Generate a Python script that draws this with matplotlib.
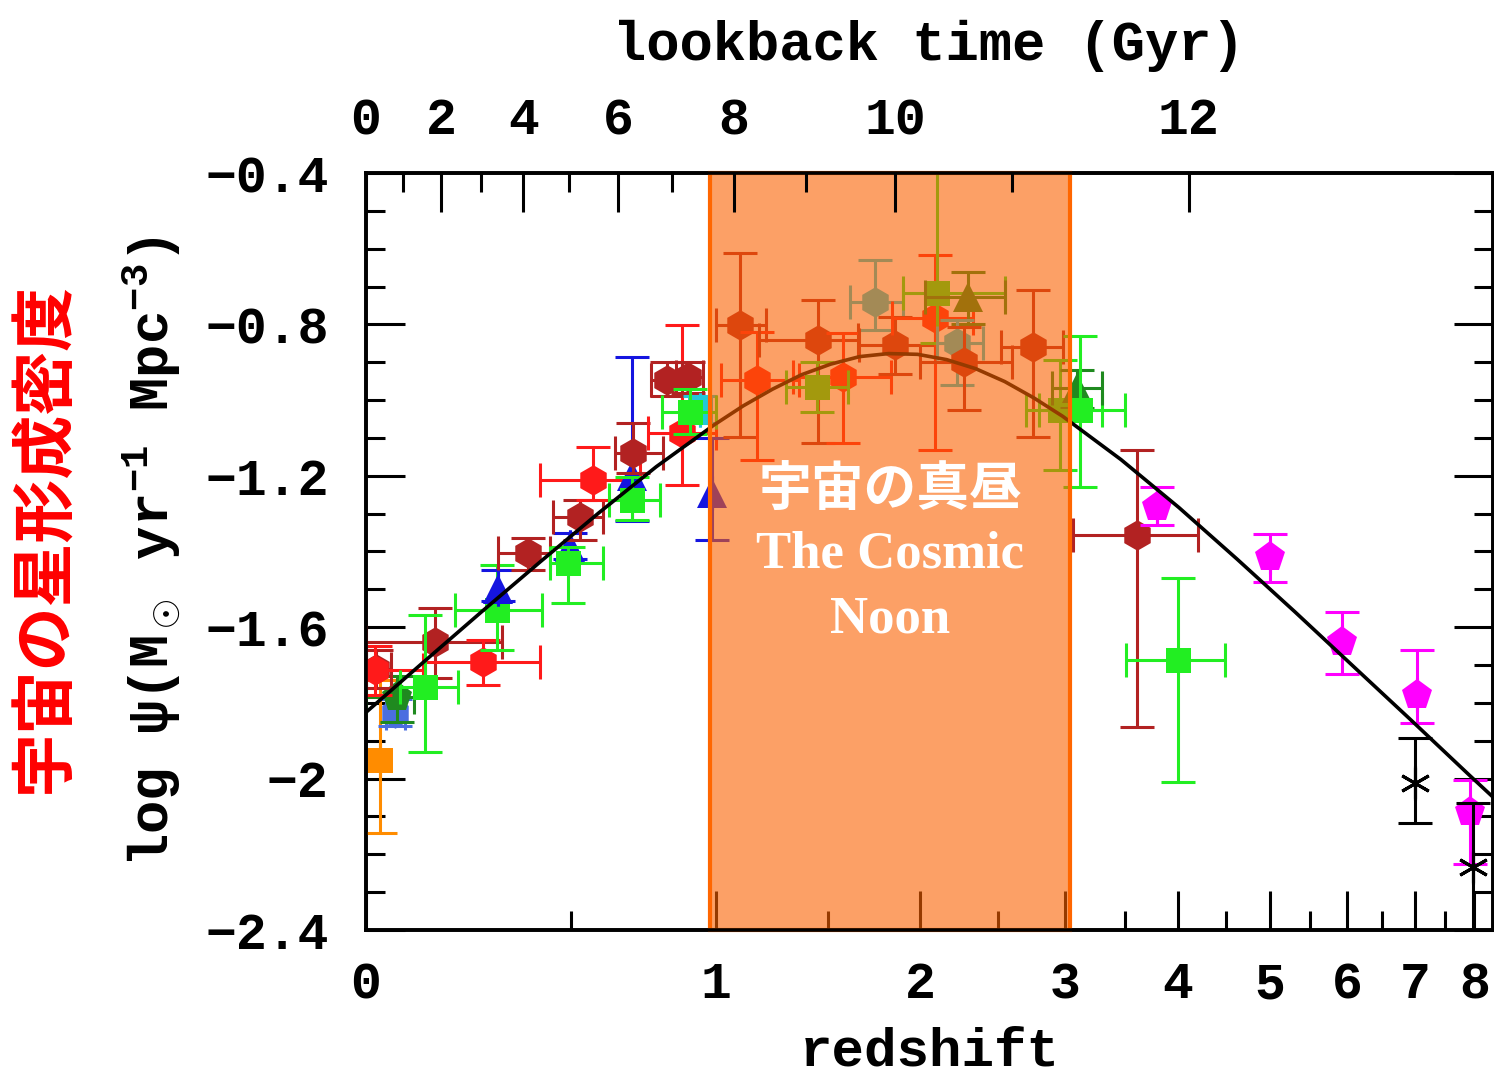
import numpy as np
import matplotlib
matplotlib.use("Agg")
import matplotlib.pyplot as plt
from matplotlib.patches import Rectangle

plt.rcParams['font.family'] = ['Liberation Mono', 'DejaVu Sans']
plt.rcParams['mathtext.fontset'] = 'custom'
plt.rcParams['mathtext.rm'] = 'Liberation Mono:bold'
plt.rcParams['mathtext.it'] = 'Liberation Mono:bold'
plt.rcParams['axes.unicode_minus'] = True

# colours of the data sets
RED = '#ff1a1a'
BRICK = '#b22222'
LIME = '#22ee22'
BLUE = '#1515e0'
RBLUE = '#4a6ee0'
DGREEN = '#1f8a1f'
DORANGE = '#ff8c00'
MAG = '#ff00ff'
CYAN = '#22c8d8'

# fit curve
curve_z = [0.0, 0.122, 0.259, 0.413, 0.585, 0.778, 0.995, 1.113, 1.239, 1.371, 1.512,
           1.661, 1.818, 1.985, 2.162, 2.350, 2.548, 2.758, 2.981, 3.467, 4.012,
           4.623, 5.310, 6.079, 6.943, 7.913, 8.333]
curve_psi = [-1.825, -1.691, -1.558, -1.427, -1.299, -1.176, -1.065, -1.015, -0.971, -0.933,
             -0.905, -0.885, -0.877, -0.879, -0.893, -0.917, -0.951, -0.994, -1.043, -1.157,
             -1.284, -1.420, -1.560, -1.703, -1.846, -1.991, -2.048]

# data points: redshift, log psi, redshift range, log psi range
pt_z = [0.028, 0.06, 0.063, 0.02, 0.018, 0.147, 0.261, 0.124, 0.297, 0.30,
        0.379, 0.497, 0.493, 0.529, 0.569, 0.694, 0.698, 0.695, 0.872, 0.816,
        0.894, 0.987, 0.94, 0.90,
        1.10, 1.172, 1.451, 1.575, 1.744, 1.447, 1.855, 2.09, 2.10, 2.30,
        2.23, 2.27, 2.754, 2.96, 3.097, 3.12,
        3.61, 3.8, 4.005, 5.006, 5.93, 7.04, 7.0, 7.93, 7.98]
pt_psi = [-1.951, -1.827, -1.784, -1.71, -1.713, -1.639, -1.692, -1.758, -1.555, -1.50,
          -1.404, -1.388, -1.430, -1.309, -1.211, -1.20, -1.140, -1.264, -1.087, -0.947,
          -0.939, -1.245, -1.026, -1.031,
          -0.802, -0.947, -0.841, -0.939, -0.741, -0.965, -0.854, -0.783, -0.717, -0.727,
          -0.849, -0.899, -0.860, -1.026, -0.968, -1.026,
          -1.356, -1.282, -1.687, -1.414, -1.639, -1.779, -2.012, -2.088, -2.233]
pt_zlo = [0.028, 0.04, 0.0, 0.0, 0.0, 0.0, 0.124, 0.07, 0.193, 0.30,
          0.299, 0.497, 0.440, 0.449, 0.412, 0.694, 0.639, 0.62, 0.75, 0.76,
          0.85, 0.987, 0.94, 0.80,
          1.00, 1.02, 1.18, 1.33, 1.61, 1.30, 1.66, 1.84, 1.90, 2.03,
          2.10, 2.00, 2.52, 2.70, 2.90, 2.80,
          3.06, 3.8, 3.51, 5.006, 5.93, 7.04, 7.0, 7.93, 7.98]
pt_zhi = [0.028, 0.08, 0.10, 0.05, 0.12, 0.31, 0.412, 0.20, 0.418, 0.30,
          0.440, 0.497, 0.600, 0.600, 0.722, 0.694, 0.803, 0.79, 1.0, 0.87,
          0.95, 0.987, 0.94, 1.0,
          1.21, 1.36, 1.65, 1.83, 1.90, 1.60, 2.09, 2.33, 2.55, 2.55,
          2.40, 2.60, 2.98, 3.30, 3.30, 3.50,
          4.2, 3.8, 4.49, 5.006, 5.93, 7.04, 7.0, 7.93, 7.98]
pt_plo = [-2.144, -1.86, -1.85, -1.76, -1.78, -1.734, -1.753, -1.930, -1.660, -1.53,
          -1.449, -1.42, -1.536, -1.370, -1.264, -1.32, -1.193, -1.317, -1.224, -0.99,
          -0.98, -1.37, -1.06, -1.09,
          -1.097, -1.158, -1.113, -1.113, -0.815, -1.031, -0.93, -1.132, -0.85, -0.80,
          -0.96, -1.026, -1.097, -1.185, -1.02, -1.23,
          -1.864, -1.33, -2.009, -1.48, -1.725, -1.854, -2.118, -2.227, -2.5]
pt_phi = [-1.740, -1.79, -1.73, -1.66, -1.65, -1.549, -1.634, -1.568, -1.436, -1.45,
          -1.364, -1.35, -1.388, -1.264, -1.124, -0.886, -1.060, -1.203, -0.802, -0.90,
          -0.90, -1.10, -0.99, -0.97,
          -0.611, -0.820, -0.735, -0.823, -0.630, -0.90, -0.78, -0.617, -0.35, -0.662,
          -0.788, -0.807, -0.709, -0.894, -0.92, -0.83,
          -1.132, -1.23, -1.47, -1.355, -1.561, -1.661, -1.893, -2.004, -2.064]
pt_color = [DORANGE, RBLUE, DGREEN, BRICK, RED, BRICK, RED, LIME, LIME, BLUE,
            BRICK, BLUE, LIME, BRICK, RED, BLUE, BRICK, LIME, RED, BRICK,
            BRICK, BLUE, CYAN, LIME,
            BRICK, RED, BRICK, RED, CYAN, LIME, BRICK, RED, LIME, DGREEN,
            CYAN, BRICK, BRICK, LIME, DGREEN, LIME,
            BRICK, MAG, LIME, MAG, MAG, MAG, 'k', MAG, 'k']
pt_marker = ['s', 'h', 'p', 'h', 'h', 'h', 'h', 's', 's', '^',
             'h', '^', 's', 'h', 'h', '^', 'h', 's', 'h', 'h',
             'h', '^', 's', 's',
             'h', 'h', 'h', 'h', 'h', 's', 'h', 'h', 's', '^',
             'h', 'h', 'h', 's', '^', 's',
             'h', 'p', 's', 'p', 'p', 'p', 'x', 'p', 'x']

zlabels_major = [0, 1, 2, 3, 4, 5, 6, 7, 8]
zminor = [0.5, 1.5, 2.5, 3.5, 4.5, 5.5, 6.5, 7.5]
t_major = [0, 2, 4, 6, 8, 10, 12]
t_minor = [1, 3, 5, 7, 9, 11]


def lz(z):
    return np.log10(1 + np.asarray(z, dtype=float))


# lookback time for H0=70, Om=0.3, OL=0.7, used to place the top ticks
zz = np.linspace(0, 15, 30001)
integ = 1.0 / ((1 + zz) * np.sqrt(0.3 * (1 + zz) ** 3 + 0.7))
tl = np.concatenate([[0], np.cumsum(0.5 * (integ[1:] + integ[:-1]) * np.diff(zz))]) * 977.8 / 70


def t_to_x(t):
    return lz(np.interp(t, tl, zz))


fig = plt.figure(figsize=(14.94, 10.75), dpi=100)
ax = fig.add_axes([0.245, 0.135, 0.754, 0.704])

ax.plot(lz(curve_z), curve_psi, color='k', lw=2.6, zorder=4)

msize = {'h': 22, 's': 18, '^': 21, 'p': 23, 'x': 22}
for i in range(len(pt_z)):
    x = lz(pt_z[i])
    xerr = [[x - lz(pt_zlo[i])], [lz(pt_zhi[i]) - x]]
    yerr = [[pt_psi[i] - pt_plo[i]], [pt_phi[i] - pt_psi[i]]]
    m = pt_marker[i]
    ax.errorbar(x, pt_psi[i], xerr=xerr, yerr=yerr, fmt='none', ecolor=pt_color[i],
                elinewidth=2.2, capsize=12, capthick=2.2, zorder=3)
    if m == 'x':
        ax.plot(x, pt_psi[i], marker=(6, 2, 0), ms=msize[m], color='k', mew=2.2,
                ls='none', zorder=3)
    else:
        ax.plot(x, pt_psi[i], marker=m, ms=msize[m], color=pt_color[i], mew=0,
                ls='none', zorder=3)

# the cosmic noon band
ax.add_patch(Rectangle((lz(0.979), -2.4), lz(3.04) - lz(0.979), 2.0,
                       facecolor=(250 / 255, 97 / 255, 0, 0.6), edgecolor='#ff6600',
                       lw=3.0, zorder=10, clip_on=False))
xc = (lz(0.979) + lz(3.04)) / 2
ax.text(xc, -1.238, '宇宙の真昼', color='white', fontsize=38, fontweight='bold',
        family=['Noto Sans CJK JP'], ha='center', va='center', zorder=11)
ax.text(xc, -1.409, 'The Cosmic', color='white', fontsize=38, fontweight='bold',
        family=['Liberation Serif'], ha='center', va='center', zorder=11)
ax.text(xc, -1.581, 'Noon', color='white', fontsize=38, fontweight='bold',
        family=['Liberation Serif'], ha='center', va='center', zorder=11)

ax.set_xlim(0, 0.97)
ax.set_ylim(-2.4, -0.4)

ax.set_xticks(lz(zlabels_major))
ax.set_xticklabels([str(v) for v in zlabels_major])
ax.set_xticks(lz(zminor), minor=True)
ax.set_yticks(np.arange(-2.4, -0.39, 0.4))
ax.set_yticklabels(['\u22122.4', '\u22122', '\u22121.6', '\u22121.2', '\u22120.8', '\u22120.4'])
ax.set_yticks(np.arange(-2.4, -0.39, 0.1), minor=True)

ax.tick_params(which='both', direction='in', width=2.2, top=False, right=True)
ax.tick_params(which='major', length=28)
ax.tick_params(which='minor', length=14)
ax.tick_params(axis='x', which='major', pad=22)
ax.tick_params(axis='y', which='major', pad=27)
for lab in ax.get_xticklabels() + ax.get_yticklabels():
    lab.set_fontsize(37)
    lab.set_fontweight('bold')
for s in ax.spines.values():
    s.set_linewidth(2.6)

ax.set_xlabel('redshift', fontsize=39, fontweight='bold', labelpad=12)
ax.set_ylabel(r'log $\psi$(M$_\odot$ yr$^{-1}$ Mpc$^{-3}$)', fontsize=40, fontweight='bold',
              labelpad=16)

top = ax.twiny()
top.set_xlim(ax.get_xlim())
top.set_xticks(t_to_x(t_major))
top.set_xticklabels([str(t) for t in t_major])
top.set_xticks(t_to_x(t_minor), minor=True)
top.tick_params(which='both', direction='in', width=2.2)
top.tick_params(which='major', length=28, pad=20)
top.tick_params(which='minor', length=14)
for lab in top.get_xticklabels():
    lab.set_fontsize(37)
    lab.set_fontweight('bold')
top.set_xlabel('lookback time (Gyr)', fontsize=40, fontweight='bold', labelpad=26)
for s in top.spines.values():
    s.set_linewidth(2.6)

fig.text(0.030, 0.50, '宇宙の星形成密度', rotation=90, color='#ff0000', fontsize=46,
         fontweight='bold', family=['Noto Sans CJK JP'], ha='center', va='center')

fig.savefig('out.png', dpi=100)
